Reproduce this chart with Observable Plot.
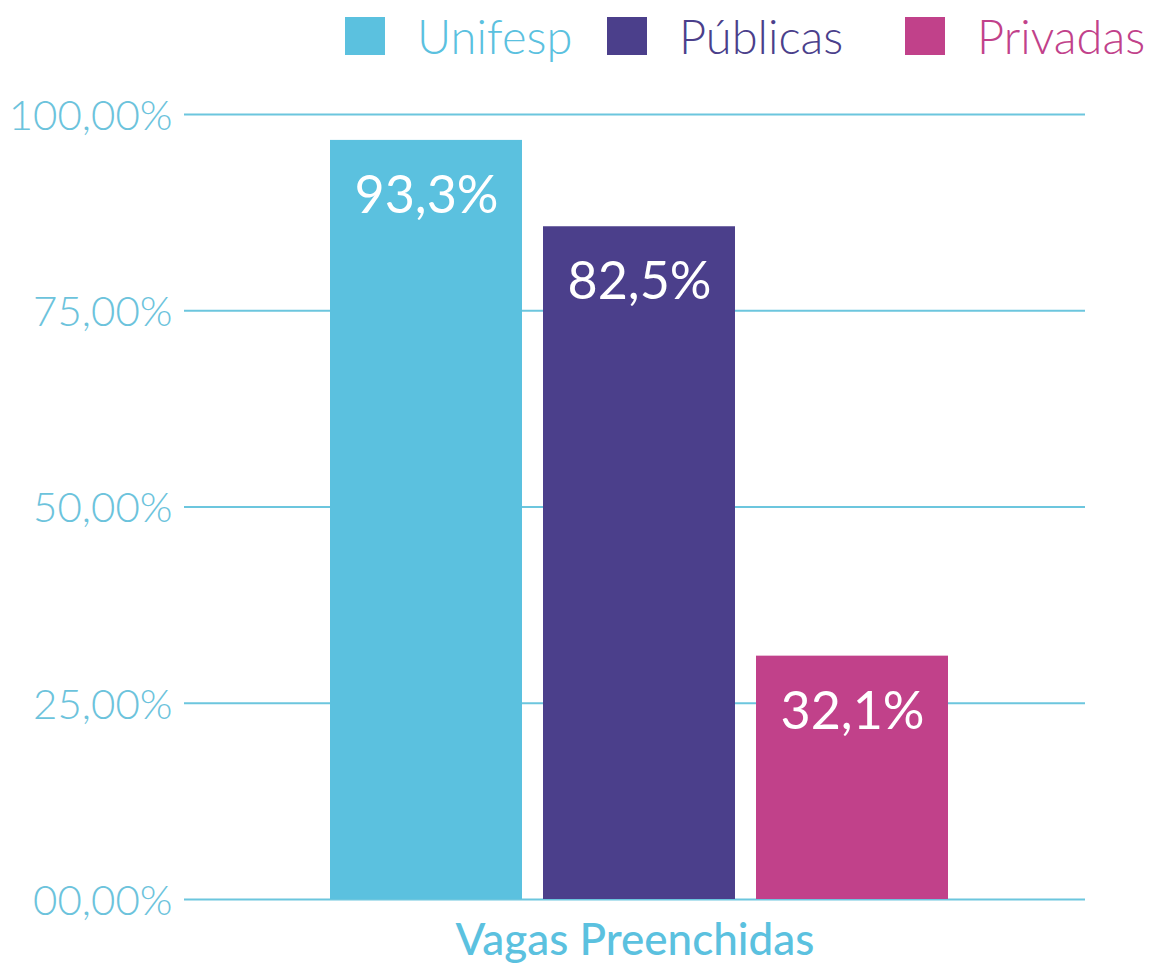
<!DOCTYPE html>
<html>
<head>
<meta charset="utf-8">
<script src="https://cdn.jsdelivr.net/npm/d3@7"></script>
<script src="https://cdn.jsdelivr.net/npm/@observablehq/plot@0.6"></script>
<style>
  html, body { margin: 0; padding: 0; background: #fff; }
  #wrap { position: relative; width: 1158px; height: 967px; overflow: hidden; font-family: Lato, "Open Sans", sans-serif; }
  #legend { position: absolute; left: 0; top: 0; width: 1158px; height: 72px; }
  .item { position: absolute; top: 0; height: 72px; display: flex; align-items: center; }
  .sw { width: 40px; height: 38px; margin-right: 32px; }
  .lab { font-size: 47px; font-weight: 300; line-height: 1; white-space: nowrap; }
  #chart { position: absolute; left: 0; top: 75px; }
</style>
</head>
<body>
<div id="wrap">
  <div id="legend"></div>
  <div id="chart"></div>
</div>
<script>
const group = "Vagas Preenchidas";
const series = ["Unifesp", "Públicas", "Privadas"];
// bar heights as drawn in the picture (%)
const values = [96.7, 85.7, 31.0];
// value labels printed on the bars
const valueLabels = ["93,3%", "82,5%", "32,1%"];
const colors = ["#5bc1df", "#4b3f8b", "#c1418a"];
const yTicks = [0, 25, 50, 75, 100];
const yTickLabels = ["00,00%", "25,00%", "50,00%", "75,00%", "100,00%"];

const gridColor = "#6cc6de";
const tickColor = "#6cc3dc";
const legendLeft = [345, 607, 905];

const data = series.map((s, i) => ({group, serie: s, value: values[i], label: valueLabels[i]}));

// legend
const legend = document.getElementById("legend");
series.forEach((s, i) => {
  const it = document.createElement("div");
  it.className = "item";
  it.style.left = legendLeft[i] + "px";
  it.innerHTML = `<div class="sw" style="background:${colors[i]}"></div><span class="lab" style="color:${colors[i]}">${s}</span>`;
  legend.appendChild(it);
});

const chart = Plot.plot({
  width: 1158,
  height: 892,
  marginLeft: 184,
  marginRight: 73,
  marginTop: 39,
  marginBottom: 68,
  style: {fontFamily: "Lato, 'Open Sans', sans-serif", background: "white", overflow: "visible"},
  fx: {domain: [group], padding: 0, label: null},
  x: {domain: series, paddingInner: 0.1007, paddingOuter: 0.663, align: 0.516, axis: null},
  y: {domain: [0, 100], label: null},
  color: {domain: series, range: colors},
  marks: [
    Plot.ruleY(yTicks, {stroke: gridColor, strokeWidth: 2}),
    Plot.barY(data, {fx: "group", x: "serie", y: "value", fill: "serie"}),
    Plot.text(data, {fx: "group", x: "serie", y: "value", text: "label", fill: "white",
      fontSize: 52, dy: 56, lineAnchor: "middle"}),
    Plot.axisY(yTicks, {tickSize: 0, tickPadding: 12, label: null,
      tickFormat: d => yTickLabels[yTicks.indexOf(d)],
      fontSize: 42, fontWeight: 300, fill: tickColor, dy: 2}),
    Plot.axisFx({anchor: "bottom", tickSize: 0, tickPadding: 24, fontSize: 44,
      fontWeight: 500, fill: "#5bc1df", label: null})
  ]
});
document.getElementById("chart").appendChild(chart);
</script>
</body>
</html>
